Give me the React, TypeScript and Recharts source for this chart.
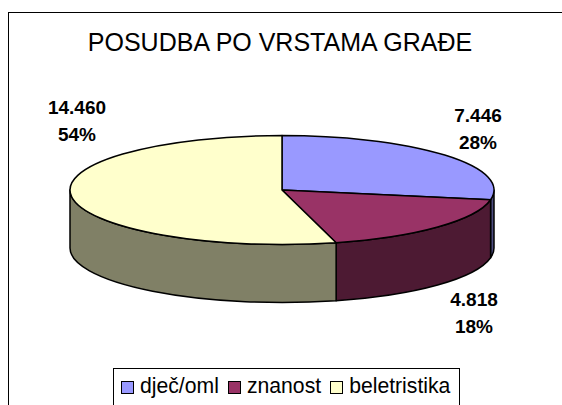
import React from "react";
import { PieChart, Pie, Cell, Legend } from "recharts";

const categories = ["dječ/oml", "znanost", "beletristika"];
const values = [7446, 4818, 14460];
const valueLabels = ["7.446", "4.818", "14.460"];
const topColors = ["#9999ff", "#993366", "#ffffcc"];
const sideColors = ["#4d4d80", "#4d1a33", "#808066"];
const labelCenters = [
  [478, 115, 142],
  [474, 299, 326],
  [77, 107, 134],
];
const chartData = categories.map((name, i) => ({ name, value: values[i], side: sideColors[i] }));

const SQUASH = 54.5 / 212;
const DEPTH = 58;

function Slice(props: any) {
  const { cx, cy, outerRadius: r, startAngle, endAngle, fill, payload } = props;
  const ry = r * SQUASH;
  const pt = (a: number, dy = 0) => {
    const t = (a * Math.PI) / 180;
    return [cx + r * Math.cos(t), cy - ry * Math.sin(t) + dy];
  };
  const [x0, y0] = pt(startAngle);
  const [x1, y1] = pt(endAngle);
  const large = startAngle - endAngle > 180 ? 1 : 0;
  const top = `M${cx},${cy} L${x0},${y0} A${r},${ry} 0 ${large} 1 ${x1},${y1} Z`;
  const s = Math.min(startAngle, 0);
  const e = Math.max(endAngle, -180);
  let wall: string | null = null;
  if (s > e) {
    const [a0, b0] = pt(s);
    const [a1, b1] = pt(e);
    wall = `M${a0},${b0} A${r},${ry} 0 0 1 ${a1},${b1} L${a1},${b1 + DEPTH} A${r},${ry} 0 0 0 ${a0},${b0 + DEPTH} Z`;
  }
  const side = payload?.side ?? props.side;
  return (
    <g>
      {wall && <path d={wall} fill={side} stroke="#000" strokeWidth={1.5} strokeLinejoin="round" />}
      <path d={top} fill={fill} stroke="#000" strokeWidth={1.5} strokeLinejoin="round" />
    </g>
  );
}

function SliceLabel(props: any) {
  const { index, percent } = props;
  const [x, y1, y2] = labelCenters[index];
  const style = { fontFamily: "'Liberation Sans', Arial, sans-serif", fontSize: 19, fontWeight: 700, fill: "#000" };
  return (
    <g>
      <text x={x} y={y1} textAnchor="middle" dominantBaseline="central" style={style}>
        {valueLabels[index]}
      </text>
      <text x={x} y={y2} textAnchor="middle" dominantBaseline="central" style={style}>
        {`${Math.round(percent * 100)}%`}
      </text>
    </g>
  );
}

function LegendBox() {
  return (
    <div
      style={{
        boxSizing: "border-box",
        width: 347,
        height: 50,
        border: "1px solid #000",
        background: "#fff",
        display: "flex",
        alignItems: "flex-start",
        paddingTop: 4,
        paddingLeft: 7,
        fontFamily: "'Liberation Sans', Arial, sans-serif",
        fontSize: 21.2,
        lineHeight: "26px",
        color: "#000",
      }}
    >
      {categories.map((c, i) => (
        <span key={c} style={{ display: "flex", alignItems: "center", marginRight: 9, whiteSpace: "nowrap" }}>
          <span
            style={{
              display: "inline-block",
              boxSizing: "border-box",
              width: 13,
              height: 13,
              border: "1.5px solid #000",
              background: topColors[i],
              marginRight: 6,
              marginTop: 2,
            }}
          />
          {c}
        </span>
      ))}
    </div>
  );
}

export default function App() {
  return (
    <div style={{ position: "absolute", left: 0, top: 0, width: 562, height: 405, overflow: "hidden", background: "#fff" }}>
      <div
        style={{
          position: "absolute",
          left: 8,
          top: 12,
          width: 600,
          height: 420,
          border: "1.5px solid #000",
          boxSizing: "border-box",
        }}
      />
      <PieChart width={562} height={405} style={{ position: "absolute", left: 0, top: 0 }} margin={{ top: 0, right: 0, bottom: 0, left: 0 }}>
        <text
          x={280}
          y={42}
          textAnchor="middle"
          dominantBaseline="central"
          style={{ fontFamily: "'Liberation Sans', Arial, sans-serif", fontSize: 25, fill: "#000" }}
        >
          POSUDBA PO VRSTAMA GRAĐE
        </text>
        <Pie
          data={chartData}
          dataKey="value"
          nameKey="name"
          cx={282}
          cy={190}
          outerRadius={212}
          startAngle={90}
          endAngle={-270}
          paddingAngle={0}
          isAnimationActive={false}
          shape={Slice}
          label={SliceLabel}
          labelLine={false}
        >
          {chartData.map((d, i) => (
            <Cell key={d.name} fill={topColors[i]} />
          ))}
        </Pie>
        <Legend
          content={() => <LegendBox />}
          wrapperStyle={{ position: "absolute", left: 113, top: 368, width: 347, height: 50, bottom: "auto" }}
        />
      </PieChart>
    </div>
  );
}
